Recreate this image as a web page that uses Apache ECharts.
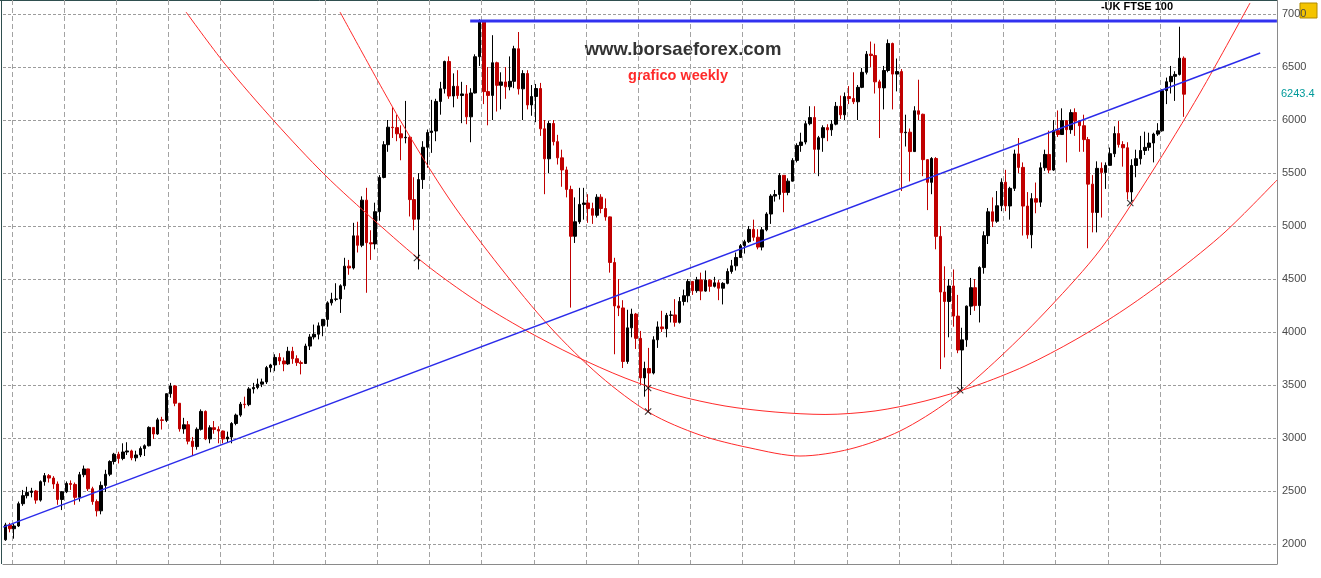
<!DOCTYPE html>
<html>
<head>
<meta charset="utf-8">
<title>UK FTSE 100 - grafico weekly</title>
<script src="https://cdn.jsdelivr.net/npm/echarts@6.0.0/dist/echarts.min.js"></script>
<style>
  html, body { margin: 0; padding: 0; background: #fff; }
  #chart { width: 1321px; height: 578px; }
</style>
</head>
<body>
<div id="chart"></div>
<script>
// FTSE 100, one bar per month, Nov 1990 .. Jun 2013
const firstYear = 1990
const firstMonth = 10 // 0-based -> November
const firstOpen = 2040

const closes = [
  2180, 2144,
  2170, 2380, 2456, 2486, 2500, 2414, 2588, 2645, 2622, 2566, 2420, 2493,
  2571, 2562, 2440, 2654, 2708, 2521, 2400, 2313, 2553, 2658, 2778, 2847,
  2807, 2868, 2878, 2813, 2840, 2900, 2927, 3100, 3038, 3171, 3166, 3418,
  3491, 3328, 3086, 3125, 2970, 2919, 3082, 3251, 2991, 3097, 3081, 3066,
  2991, 3009, 3137, 3216, 3319, 3315, 3463, 3477, 3508, 3529, 3664, 3689,
  3760, 3727, 3699, 3818, 3748, 3711, 3703, 3867, 3953, 3979, 4058, 4119,
  4275, 4308, 4312, 4436, 4621, 4604, 4907, 4818, 5244, 4842, 4831, 5135,
  5458, 5767, 5932, 5928, 5870, 5832, 5837, 5249, 5064, 5438, 5743, 5882,
  5896, 6175, 6295, 6552, 6226, 6318, 6231, 6246, 6030, 6255, 6597, 6930,
  6268, 6232, 6540, 6327, 6359, 6313, 6365, 6672, 6294, 6438, 6142, 6222,
  6297, 5917, 5634, 5967, 5796, 5643, 5529, 5345, 4903, 5040, 5204, 5217,
  5164, 5101, 5272, 5165, 5086, 4656, 4246, 4227, 3722, 4039, 4169, 3940,
  3567, 3656, 3613, 3926, 4048, 4031, 4157, 4161, 4091, 4288, 4342, 4477,
  4390, 4492, 4386, 4489, 4431, 4464, 4413, 4459, 4571, 4624, 4703, 4814,
  4852, 4968, 4894, 4801, 4964, 5113, 5282, 5297, 5478, 5317, 5423, 5619,
  5760, 5792, 5965, 6023, 5723, 5833, 5928, 5907, 5961, 6129, 6049, 6221,
  6203, 6172, 6308, 6450, 6621, 6608, 6360, 6303, 6467, 6722, 6433, 6457,
  5880, 5885, 5702, 6087, 6054, 5626, 5412, 5637, 4902, 4377, 4288, 4434,
  4150, 3830, 3926, 4244, 4418, 4249, 4608, 4909, 5134, 5045, 5191, 5413,
  5189, 5355, 5680, 5553, 5188, 4917, 5258, 5225, 5549, 5675, 5528, 5900,
  5863, 5994, 5909, 6070, 5990, 5946, 5815, 5395, 5128, 5544, 5505, 5572,
  5682, 5872, 5768, 5738, 5321, 5571, 5635, 5712, 5742, 5783, 5867, 5898,
  6277, 6361, 6412, 6430, 6583, 6243.4
]

const highs = [
  2200, 2200,
  2190, 2400, 2510, 2540, 2530, 2510, 2600, 2670, 2660, 2640, 2590, 2500,
  2590, 2600, 2580, 2680, 2740, 2710, 2540, 2420, 2590, 2700, 2790, 2860,
  2870, 2950, 2960, 2890, 2880, 2920, 2940, 3110, 3100, 3190, 3200, 3420,
  3520, 3500, 3330, 3190, 3160, 3010, 3100, 3270, 3260, 3120, 3160, 3110,
  3070, 3060, 3150, 3230, 3340, 3390, 3480, 3520, 3560, 3560, 3680, 3700,
  3790, 3800, 3760, 3860, 3860, 3780, 3730, 3890, 3980, 4070, 4090, 4120,
  4290, 4370, 4460, 4450, 4700, 4680, 5030, 5040, 5280, 5360, 4960, 5220,
  5480, 5800, 6000, 6120, 6050, 5950, 6180, 5850, 5460, 5500, 5800, 5910,
  6190, 6200, 6360, 6560, 6600, 6440, 6470, 6360, 6330, 6300, 6620, 6950,
  6930, 6500, 6800, 6550, 6450, 6500, 6600, 6700, 6830, 6470, 6470, 6330,
  6340, 6350, 6000, 5990, 6000, 5860, 5720, 5560, 5380, 5270, 5360, 5360,
  5300, 5220, 5300, 5300, 5260, 5090, 4700, 4500, 4300, 4210, 4220, 4180,
  4010, 3720, 3850, 3960, 4100, 4200, 4180, 4200, 4310, 4330, 4400, 4500,
  4480, 4520, 4560, 4580, 4500, 4520, 4490, 4470, 4600, 4680, 4750, 4830,
  4870, 5000, 5060, 4970, 4990, 5130, 5300, 5340, 5500, 5480, 5450, 5640,
  5780, 5880, 5990, 6130, 6130, 5850, 5950, 5960, 6000, 6170, 6230, 6260,
  6320, 6450, 6330, 6490, 6650, 6740, 6720, 6380, 6510, 6760, 6730, 6580,
  6480, 6050, 5920, 6130, 6380, 6060, 5630, 5650, 5650, 5000, 4620, 4500,
  4590, 4350, 4040, 4250, 4510, 4500, 4620, 4950, 5170, 5270, 5330, 5450,
  5530, 5370, 5720, 5830, 5600, 5320, 5310, 5410, 5600, 5720, 5900, 6000,
  6090, 6110, 6000, 6100, 6110, 6000, 6050, 5840, 5480, 5610, 5600, 5600,
  5740, 5940, 5990, 5800, 5790, 5630, 5720, 5850, 5890, 5880, 5880, 5970,
  6290, 6400, 6510, 6460, 6880, 6600
]

const lows = [
  2030, 2110,
  2050, 2160, 2360, 2430, 2440, 2380, 2400, 2550, 2580, 2520, 2370, 2320,
  2480, 2510, 2370, 2400, 2630, 2500, 2370, 2260, 2280, 2490, 2640, 2750,
  2760, 2790, 2840, 2790, 2780, 2820, 2830, 2920, 2990, 3030, 3080, 3150,
  3380, 3300, 3060, 3040, 2940, 2830, 2890, 3070, 2980, 2950, 3040, 2950,
  2950, 2960, 2950, 3120, 3200, 3280, 3300, 3420, 3460, 3480, 3510, 3620,
  3630, 3690, 3630, 3690, 3700, 3680, 3600, 3700, 3830, 3930, 3930, 3960,
  4050, 4250, 4290, 4180, 4400, 4540, 4590, 4750, 4800, 4370, 4680, 4780,
  5050, 5450, 5700, 5830, 5800, 5620, 5780, 5090, 4960, 4590, 5350, 5550,
  5690, 5800, 6050, 6250, 6200, 6120, 6200, 5970, 5960, 5790, 6250, 6510,
  6150, 5950, 6000, 6080, 6100, 6200, 6280, 6300, 6240, 6000, 6100, 6040,
  5980, 5850, 5300, 5500, 5760, 5580, 5370, 5270, 4230, 4840, 5020, 5060,
  5030, 5020, 5080, 5120, 5050, 4560, 3790, 4150, 3660, 3700, 3950, 3840,
  3500, 3390, 3250, 3600, 3850, 4000, 3950, 4090, 4050, 4080, 4250, 4280,
  4350, 4370, 4300, 4380, 4380, 4420, 4300, 4260, 4450, 4550, 4580, 4700,
  4740, 4840, 4860, 4780, 4770, 4950, 5020, 5230, 5250, 5130, 5290, 5420,
  5600, 5700, 5770, 5950, 5500, 5470, 5700, 5800, 5850, 5950, 6010, 6000,
  6150, 6150, 6000, 6300, 6430, 6500, 6250, 5830, 6100, 6450, 6100, 6270,
  5330, 5750, 5420, 5700, 6000, 5470, 5150, 5300, 4780, 3650, 3760, 3950,
  4050, 3800, 3460, 3860, 4160, 4200, 4090, 4550, 4830, 4990, 5030, 5140,
  5140, 5060, 5330, 5500, 4910, 4880, 4790, 5120, 5180, 5520, 5500, 5520,
  5840, 5860, 5600, 5870, 5850, 5700, 5700, 4790, 4940, 4940, 5080, 5350,
  5570, 5650, 5740, 5560, 5250, 5230, 5460, 5580, 5670, 5710, 5600, 5850,
  5890, 6150, 6250, 6180, 6420, 6030
]

// drawn studies, [year, price]
const trendLine = [[1990.83, 2160], [2014.92, 6632]]
const topLine = [[1999.78, 6934], [2015.24, 6934]]
const arcOuter = [
  [1994.335, 7019], [1995.082, 6528], [1996.040, 5981], [1996.998, 5481], [1997.957, 5047],
  [1998.915, 4642], [1999.873, 4302], [2000.831, 4019], [2001.790, 3774], [2002.748, 3566],
  [2003.706, 3406], [2004.664, 3302], [2005.623, 3245], [2006.581, 3222], [2007.539, 3255],
  [2008.497, 3349], [2009.455, 3491], [2010.413, 3679], [2011.372, 3925], [2012.330, 4217],
  [2013.288, 4557], [2014.246, 4943], [2015.243, 5434]
]
const arcInner = [
  [1997.286, 7019], [1998.436, 6000], [1999.394, 5245], [2000.352, 4613], [2001.310, 4047],
  [2002.269, 3585], [2003.227, 3236], [2004.185, 3028], [2005.143, 2906], [2006.101, 2830],
  [2007.060, 2896], [2008.018, 3066], [2008.976, 3358], [2009.934, 3764], [2010.892, 4236],
  [2011.851, 4774], [2012.809, 5481], [2013.767, 6255], [2014.725, 7104]
]
const pivots = [[1998.76, 4698], [2003.19, 3472], [2003.19, 3250], [2009.17, 3450], [2012.43, 5217]]

const FONT = '"Liberation Sans", Arial, sans-serif'
const X_MIN = 1990.8275
const X_MAX = 2015.2422
const Y_MIN = 1811.3
const Y_MAX = 7132.1

const bars = closes.map((c, i) => {
  const t = firstYear + (firstMonth + i + 0.5) / 12
  const open = i === 0 ? firstOpen : closes[i - 1]
  return [t, open, c, lows[i], highs[i]]
})

const chart = echarts.init(document.getElementById('chart'))

const hidden = { show: false }

const option = {
  animation: false,
  backgroundColor: '#fff',
  grid: [
    { left: 3, right: 44, top: 0, bottom: 14, outerBoundsMode: 'none' },   // prices
    { left: 12, right: 161, top: 0, bottom: 14, outerBoundsMode: 'none' }, // year lines
    { left: 3, right: 44, top: 14, bottom: 34, outerBoundsMode: 'none' }   // price lines + labels
  ],
  xAxis: [
    {
      gridIndex: 0, type: 'value', min: X_MIN, max: X_MAX,
      axisLine: { show: true, onZero: false, lineStyle: { color: '#8a8a8a' } },
      axisTick: hidden, axisLabel: hidden, splitLine: hidden
    },
    {
      gridIndex: 1, type: 'value', min: 1991, max: 2013, interval: 1,
      axisLine: hidden, axisTick: hidden, axisLabel: hidden,
      splitLine: { show: true, lineStyle: { color: '#a3a3a3', type: [5, 3], width: 1 } }
    },
    { gridIndex: 2, type: 'value', show: false, min: 0, max: 1 }
  ],
  yAxis: [
    {
      gridIndex: 0, type: 'value', position: 'right', min: Y_MIN, max: Y_MAX,
      axisLine: { show: true, onZero: false, lineStyle: { color: '#8a8a8a' } },
      axisTick: hidden, axisLabel: hidden, splitLine: hidden
    },
    { gridIndex: 1, type: 'value', show: false, min: 0, max: 1 },
    {
      gridIndex: 2, type: 'value', position: 'right', min: 2000, max: 7000, interval: 500,
      axisLine: hidden, axisTick: hidden,
      axisLabel: { color: '#4a4a4a', fontSize: 11, fontFamily: FONT, margin: 5, formatter: v => String(v) },
      splitLine: { show: true, lineStyle: { color: '#9c9c9c', type: [3, 2], width: 1 } }
    }
  ],
  series: [
    {
      name: 'UK FTSE 100',
      type: 'candlestick',
      xAxisIndex: 0,
      yAxisIndex: 0,
      data: bars,
      encode: { x: 0, y: [1, 2, 3, 4] },
      barWidth: 3,
      itemStyle: {
        color: '#000', color0: '#c00000',
        borderColor: '#000', borderColor0: '#c00000', borderWidth: 1
      },
      z: 2
    },
    {
      type: 'line', xAxisIndex: 0, yAxisIndex: 0, data: arcOuter,
      smooth: 0.3, symbol: 'none', silent: true,
      lineStyle: { color: '#ff2a2a', width: 1 }, z: 3
    },
    {
      type: 'line', xAxisIndex: 0, yAxisIndex: 0, data: arcInner,
      smooth: 0.3, symbol: 'none', silent: true,
      lineStyle: { color: '#ff2a2a', width: 1 }, z: 3
    },
    {
      type: 'line', xAxisIndex: 0, yAxisIndex: 0, data: trendLine,
      symbol: 'none', silent: true,
      lineStyle: { color: '#2b2bea', width: 1.4 }, z: 4
    },
    {
      type: 'line', xAxisIndex: 0, yAxisIndex: 0, data: topLine,
      symbol: 'none', silent: true,
      lineStyle: { color: '#3232f0', width: 3 }, z: 4
    },
    {
      type: 'scatter', xAxisIndex: 0, yAxisIndex: 0, data: pivots,
      symbol: 'path://M0,1L1,0L5,4L9,0L10,1L6,5L10,9L9,10L5,6L1,10L0,9L4,5Z',
      symbolSize: 7, itemStyle: { color: '#000' }, silent: true, z: 5
    }
  ],
  graphic: [
    { type: 'line', shape: { x1: 1.5, y1: 0, x2: 1.5, y2: 564 }, style: { stroke: '#2f4f4f', lineWidth: 1 } },
    { type: 'line', shape: { x1: 0, y1: 0.5, x2: 1277, y2: 0.5 }, style: { stroke: '#2f4f4f', lineWidth: 1 } },
    {
      type: 'text', x: 683, y: 50,
      style: { text: 'www.borsaeforex.com', fill: '#333', font: 'bold 18.5px ' + FONT, align: 'center', verticalAlign: 'middle' }
    },
    {
      type: 'text', x: 678, y: 76,
      style: { text: 'grafico weekly', fill: '#ff2a2a', font: 'bold 14.5px ' + FONT, align: 'center', verticalAlign: 'middle' }
    },
    {
      type: 'text', x: 1137, y: 7,
      style: { text: '-UK FTSE 100', fill: '#000', font: 'bold 11px ' + FONT, align: 'center', verticalAlign: 'middle' }
    },
    { type: 'rect', shape: { x: 1300, y: 3, width: 17, height: 15 }, style: { fill: '#f4c400', stroke: '#b08a00' } }
  ]
}

chart.setOption(option)

// last value tag on the price scale
const lastClose = closes[closes.length - 1]
const lastY = chart.convertToPixel({ yAxisIndex: 0 }, lastClose)
option.graphic.push({
  type: 'text', x: 1281, y: lastY,
  style: { text: lastClose.toFixed(1), fill: '#009a9a', font: '11px ' + FONT, align: 'left', verticalAlign: 'middle' }
})
chart.setOption(option, true)
</script>
</body>
</html>
